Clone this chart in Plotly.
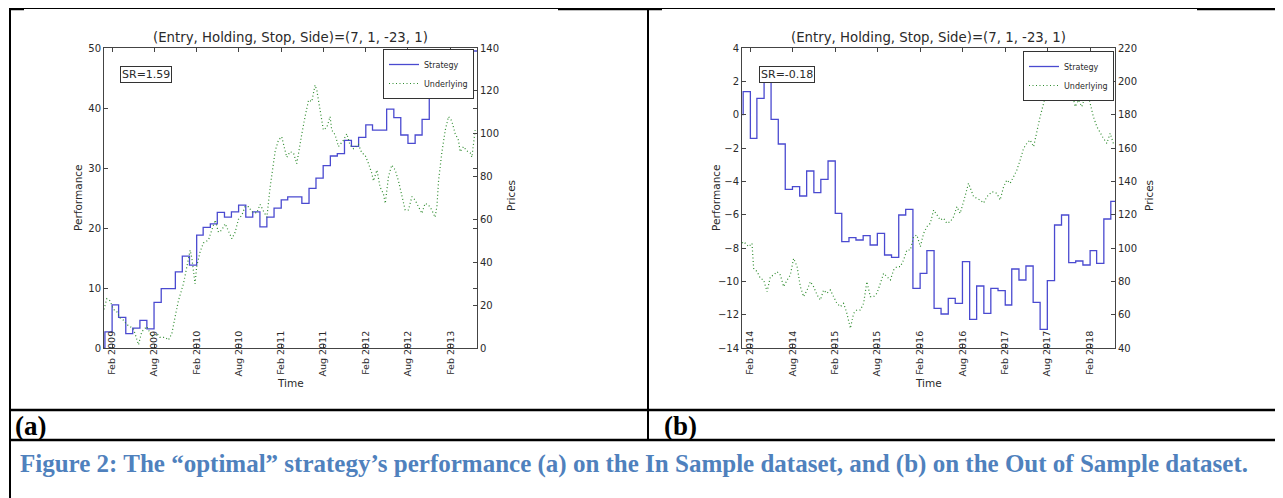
import plotly.graph_objects as go

# page size and the browser's default 8px body margin
PAGE_W, PAGE_H = 1283, 498
OFF = 8
W, H = PAGE_W - OFF, PAGE_H - OFF

# ---------------- (a) In Sample ----------------
a_strategy_dates = [
    "2008-12-28", "2009-01-01", "2009-02-01", "2009-03-01", "2009-04-01", "2009-05-01", "2009-06-01",
    "2009-07-01", "2009-08-01", "2009-09-01", "2009-10-01", "2009-11-01", "2009-12-01",
    "2010-01-01", "2010-02-01", "2010-03-01", "2010-04-01", "2010-05-01", "2010-06-01",
    "2010-07-01", "2010-08-01", "2010-09-01", "2010-10-01", "2010-11-01", "2010-12-01",
    "2011-01-01", "2011-02-01", "2011-03-01", "2011-04-01", "2011-05-01", "2011-06-01",
    "2011-07-01", "2011-08-01", "2011-09-01", "2011-10-01", "2011-11-01", "2011-12-01",
    "2012-01-01", "2012-02-01", "2012-03-01", "2012-04-01", "2012-05-01", "2012-06-01",
    "2012-07-01", "2012-08-01", "2012-09-01", "2012-10-01", "2012-11-01", "2012-12-01",
    "2013-01-01", "2013-02-01", "2013-03-01", "2013-04-01", "2013-05-01", "2013-05-26",
]
a_strategy_perf = [
    0.0, 2.7, 7.2, 5.1, 2.4, 3.3, 4.6, 3.2, 7.6, 9.9, 9.9, 12.7, 15.3,
    13.8, 18.8, 20.1, 20.7, 22.6, 21.8, 22.7, 23.8, 21.8, 22.7, 20.2, 21.8,
    23.3, 24.7, 25.2, 25.2, 24.1, 26.6, 28.3, 30.4, 32.0, 32.4, 34.6, 33.6,
    35.1, 37.2, 36.3, 36.3, 39.8, 38.4, 35.5, 34.1, 35.5, 38.1, 43.4, 46.0,
    47.0, 48.5, 47.5, 49.0, 49.5, 49.5,
]
a_price_dates = [
    "2008-12-28", "2009-01-09", "2009-01-23", "2009-02-07", "2009-02-21", "2009-03-08", "2009-03-22",
    "2009-04-05", "2009-04-20", "2009-05-04", "2009-05-16", "2009-05-26", "2009-06-09", "2009-07-01",
    "2009-07-22", "2009-08-13", "2009-08-27", "2009-09-18", "2009-10-02", "2009-10-17", "2009-10-31",
    "2009-11-14", "2009-12-06", "2009-12-20", "2010-01-04", "2010-01-11", "2010-01-25", "2010-02-01",
    "2010-02-16", "2010-03-02", "2010-03-24", "2010-04-07", "2010-04-22", "2010-05-06", "2010-05-20",
    "2010-06-04", "2010-06-18", "2010-07-03", "2010-07-17", "2010-07-31", "2010-08-15", "2010-08-29",
    "2010-09-13", "2010-09-27", "2010-10-18", "2010-11-02", "2010-11-16", "2010-12-01", "2010-12-15",
    "2011-01-06", "2011-01-20", "2011-02-03", "2011-02-18", "2011-02-25", "2011-03-11", "2011-03-26",
    "2011-04-09", "2011-04-16", "2011-05-01", "2011-05-15", "2011-05-30", "2011-06-13", "2011-06-27",
    "2011-07-05", "2011-07-12", "2011-07-26", "2011-08-02", "2011-08-17", "2011-08-31", "2011-09-07",
    "2011-09-22", "2011-10-06", "2011-10-28", "2011-11-11", "2011-11-25", "2011-12-10", "2011-12-31",
    "2012-01-15", "2012-01-29", "2012-02-13", "2012-02-27", "2012-03-05", "2012-03-20", "2012-04-03",
    "2012-04-17", "2012-04-25", "2012-05-09", "2012-05-23", "2012-06-07", "2012-06-21", "2012-07-06",
    "2012-07-20", "2012-08-03", "2012-08-18", "2012-09-01", "2012-09-15", "2012-09-30", "2012-10-14",
    "2012-10-29", "2012-11-12", "2012-11-26", "2012-12-04", "2012-12-11", "2012-12-25", "2013-01-09",
    "2013-01-23", "2013-02-06", "2013-02-21", "2013-03-07", "2013-03-14", "2013-03-29", "2013-04-12",
    "2013-04-27", "2013-05-04", "2013-05-18",
]
a_price_vals = [
    18, 23, 22, 18, 17, 14, 13,
    11, 10, 9, 5, 1.5, 7.6, 10,
    5.3, 6.8, 5, 5, 3.7, 6.8, 14.6,
    22, 30, 38, 45.7, 42, 30, 38,
    45, 49, 50.4, 55, 59.7, 54, 55,
    58, 55, 51, 54, 60, 62, 66,
    66, 63.6, 63, 67, 64, 61, 75,
    92, 97, 98.6, 92, 89, 91.6, 91,
    86, 91, 100, 108, 115.7, 115, 122.7,
    120, 115.7, 106, 101.7, 103, 108, 101.7,
    99.4, 94, 97, 100, 94.7, 93, 95,
    91, 90, 86, 81.5, 78, 83, 75,
    72, 67.5, 80, 85.4, 83, 78, 70.6,
    64.4, 64.4, 70.6, 69, 66, 62.8, 67.5,
    66.7, 64.4, 61, 66, 78, 91, 101.7,
    108, 106, 100, 97, 91.6, 94, 92,
    91, 89, 101.7,
]
a_tick_dates = ["2009-02-01", "2009-08-01", "2010-02-01", "2010-08-01", "2011-02-01",
                "2011-08-01", "2012-02-01", "2012-08-01", "2013-02-01"]
a_tick_text = ["Feb 2009", "Aug 2009", "Feb 2010", "Aug 2010", "Feb 2011",
               "Aug 2011", "Feb 2012", "Aug 2012", "Feb 2013"]
a_range = ["2008-12-28", "2013-05-26"]
a_sr = "SR=1.59"

# ---------------- (b) Out of Sample ----------------
b_strategy_dates = [
    "2013-12-28", "2014-01-01", "2014-02-01", "2014-03-01", "2014-04-01", "2014-05-01", "2014-06-01",
    "2014-07-01", "2014-08-01", "2014-09-01", "2014-10-01", "2014-11-01", "2014-12-01",
    "2015-01-01", "2015-02-01", "2015-03-01", "2015-04-01", "2015-05-01", "2015-06-01",
    "2015-07-01", "2015-08-01", "2015-09-01", "2015-10-01", "2015-11-01", "2015-12-01",
    "2016-01-01", "2016-02-01", "2016-03-01", "2016-04-01", "2016-05-01", "2016-06-01",
    "2016-07-01", "2016-08-01", "2016-09-01", "2016-10-01", "2016-11-01", "2016-12-01",
    "2017-01-01", "2017-02-01", "2017-03-01", "2017-04-01", "2017-05-01", "2017-06-01",
    "2017-07-01", "2017-08-01", "2017-09-01", "2017-10-01", "2017-11-01", "2017-12-01",
    "2018-01-01", "2018-02-01", "2018-03-01", "2018-04-01", "2018-05-01", "2018-05-19",
]
b_strategy_perf = [
    0.0, 1.38, -1.42, 0.98, 2.1, -0.28, -1.76, -4.48, -4.32, -4.88, -3.38, -4.68, -3.88,
    -2.78, -5.92, -7.62, -7.38, -7.52, -7.26, -7.82, -7.12, -8.42, -8.56, -6.02, -5.68,
    -10.42, -9.52, -8.16, -11.62, -11.96, -11.02, -11.32, -8.82, -12.28, -10.28, -11.92, -10.42,
    -10.56, -11.42, -9.26, -9.92, -9.08, -11.26, -12.88, -9.96, -6.62, -6.02, -8.88, -8.78,
    -9.02, -8.16, -8.92, -6.26, -5.2, -5.2,
]
b_price_dates = [
    "2013-12-28", "2014-01-03", "2014-01-25", "2014-02-08", "2014-02-15", "2014-03-02", "2014-03-16",
    "2014-03-30", "2014-04-14", "2014-04-28", "2014-05-12", "2014-05-27", "2014-06-10", "2014-06-24",
    "2014-07-09", "2014-07-23", "2014-08-06", "2014-08-21", "2014-09-04", "2014-09-18", "2014-10-03",
    "2014-10-17", "2014-10-31", "2014-11-15", "2014-11-29", "2014-12-13", "2014-12-27", "2015-01-11",
    "2015-01-25", "2015-02-08", "2015-02-23", "2015-03-09", "2015-03-23", "2015-04-07", "2015-04-21",
    "2015-05-05", "2015-05-20", "2015-06-03", "2015-06-17", "2015-07-02", "2015-07-16", "2015-07-30",
    "2015-08-14", "2015-08-28", "2015-09-11", "2015-09-26", "2015-10-10", "2015-10-24", "2015-11-08",
    "2015-11-22", "2015-12-06", "2015-12-21", "2016-01-04", "2016-01-18", "2016-02-02", "2016-02-16",
    "2016-03-01", "2016-03-16", "2016-03-30", "2016-04-13", "2016-04-28", "2016-05-12", "2016-05-26",
    "2016-06-10", "2016-06-24", "2016-07-08", "2016-07-22", "2016-08-06", "2016-08-27", "2016-09-18",
    "2016-10-16", "2016-10-31", "2016-11-14", "2016-12-06", "2016-12-27", "2017-01-10", "2017-01-25",
    "2017-02-08", "2017-02-22", "2017-03-09", "2017-03-23", "2017-04-06", "2017-04-21", "2017-05-05",
    "2017-05-19", "2017-06-03", "2017-06-17", "2017-07-01", "2017-07-16", "2017-07-30", "2017-08-13",
    "2017-08-28", "2017-09-11", "2017-09-18", "2017-10-02", "2017-10-17", "2017-10-31", "2017-11-14",
    "2017-11-29", "2017-12-13", "2017-12-27", "2018-01-11", "2018-01-18", "2018-02-01", "2018-02-15",
    "2018-03-02", "2018-03-16", "2018-03-30", "2018-04-14", "2018-04-28", "2018-05-12", "2018-05-19",
]
b_price_vals = [
    103, 103.8, 100.8, 102.8, 87.8, 85.8, 81.8,
    80.8, 73.8, 82.8, 83.8, 85.8, 83.8, 76.8,
    80.8, 83.8, 93.8, 88.8, 76.8, 70.8, 74.8,
    79.8, 76.8, 71.8, 68.8, 74.8, 72.8, 74.8,
    70.8, 66.8, 64.8, 66.8, 60.8, 51.8, 60.8,
    62.8, 62.8, 66.8, 79.8, 70.8, 70.8, 72.8,
    78.8, 84.8, 82.8, 80.8, 86.8, 88.8, 88.8,
    92.8, 98.8, 98.8, 106.8, 107.8, 100.8, 108.8,
    112.8, 114.8, 122.8, 119.8, 116.8, 117.8, 114.8,
    115.8, 118.8, 124.8, 120.8, 127.8, 138.8, 130.8,
    128.8, 127, 130.8, 133.8, 132.8, 128.8, 136.8,
    140.8, 138.8, 142.8, 146.8, 152.8, 159.8, 162.8,
    164.8, 160.8, 170.8, 178.8, 186.8, 194.8, 204.8,
    206.8, 200.8, 194.8, 201.8, 205.8, 201.8, 192.8,
    184.8, 188.8, 184.8, 190.8, 194.8, 186.8, 178.8,
    172.8, 168.8, 165.8, 162.8, 168.8, 162.8, 161.8,
]
b_tick_dates = ["2014-02-01", "2014-08-01", "2015-02-01", "2015-08-01", "2016-02-01",
                "2016-08-01", "2017-02-01", "2017-08-01", "2018-02-01"]
b_tick_text = ["Feb 2014", "Aug 2014", "Feb 2015", "Aug 2015", "Feb 2016",
               "Aug 2016", "Feb 2017", "Aug 2017", "Feb 2018"]
b_range = ["2013-12-27", "2018-05-19"]
b_sr = "SR=-0.18"

title_text = "(Entry, Holding, Stop, Side)=(7, 1, -23, 1)"
caption_text = ("Figure 2: The \u201coptimal\u201d strategy\u2019s performance (a) on the In Sample dataset, "
                "and (b) on the Out of Sample dataset.")

# ---------------- styling ----------------
FONT = "DejaVu Sans"
BLUE = "#4a4ad0"
GREEN = "#2e8b2e"
AX = "#444444"
TXT = "#2a2a2a"


def px(x):
    """page pixel x -> paper fraction"""
    return (x - OFF) / W


def py(y):
    """page pixel y -> paper fraction"""
    return 1 - (y - OFF) / H


# panel geometry (page pixels)
A_X0, A_X1 = 104, 477
B_X0, B_X1 = 742, 1115
Y_TOP, Y_BOT = 48, 348

fig = go.Figure()

fig.add_trace(go.Scatter(x=a_strategy_dates, y=a_strategy_perf, name="Strategy", mode="lines",
                         line=dict(color=BLUE, width=1.3, shape="hv"), xaxis="x", yaxis="y",
                         legend="legend"))
fig.add_trace(go.Scatter(x=a_price_dates, y=a_price_vals, name="Underlying", mode="lines",
                         line=dict(color=GREEN, width=1.2, dash="1px,2.5px"), xaxis="x", yaxis="y2",
                         legend="legend"))
fig.add_trace(go.Scatter(x=b_strategy_dates, y=b_strategy_perf, name="Strategy", mode="lines",
                         line=dict(color=BLUE, width=1.3, shape="hv"), xaxis="x2", yaxis="y3",
                         legend="legend2"))
fig.add_trace(go.Scatter(x=b_price_dates, y=b_price_vals, name="Underlying", mode="lines",
                         line=dict(color=GREEN, width=1.2, dash="1px,2.5px"), xaxis="x2", yaxis="y4",
                         legend="legend2"))

tickfont = dict(family=FONT, size=10, color=TXT)
xtickfont = dict(family=FONT, size=9.5, color=TXT)


def xaxis_cfg(domain, rng, tv, tt, anchor):
    return dict(domain=domain, range=rng, type="date", anchor=anchor, automargin=False,
                tickmode="array", tickvals=tv, ticktext=tt, tickangle=-90,
                ticks="inside", ticklen=4, tickcolor=AX, showline=True, linecolor=AX,
                linewidth=1, mirror="ticks", showgrid=False, zeroline=False,
                tickfont=xtickfont, ticklabelstandoff=-22)


def yaxis_cfg(rng, dtick, anchor):
    return dict(domain=[py(Y_BOT), py(Y_TOP)], range=rng, dtick=dtick, tick0=rng[0],
                anchor=anchor, automargin=False, ticks="inside", ticklen=4, tickcolor=AX,
                showline=True, linecolor=AX, linewidth=1, mirror="ticks", showgrid=False,
                zeroline=False, tickfont=tickfont)


def yaxis2_cfg(rng, dtick, over, anchor):
    return dict(range=rng, dtick=dtick, tick0=rng[0], overlaying=over, anchor=anchor,
                automargin=False, side="right", ticks="inside", ticklen=4, tickcolor=AX,
                showline=True, linecolor=AX, linewidth=1, showgrid=False, zeroline=False,
                tickfont=tickfont)


legend_common = dict(bgcolor="white", bordercolor="#333333", borderwidth=1,
                     font=dict(family=FONT, size=8, color=TXT), xanchor="right", yanchor="top",
                     tracegroupgap=0, itemwidth=30)

layout = dict(
    template="none",
    width=W, height=H, margin=dict(l=0, r=0, t=0, b=0, pad=0),
    paper_bgcolor="white", plot_bgcolor="white",
    xaxis=xaxis_cfg([px(A_X0), px(A_X1)], a_range, a_tick_dates, a_tick_text, "y"),
    yaxis=yaxis_cfg([0, 50], 10, "x"),
    yaxis2=yaxis2_cfg([0, 140], 20, "y", "x"),
    xaxis2=xaxis_cfg([px(B_X0), px(B_X1)], b_range, b_tick_dates, b_tick_text, "y3"),
    yaxis3=yaxis_cfg([-14, 4], 2, "x2"),
    yaxis4=yaxis2_cfg([40, 220], 20, "y3", "x2"),
    legend=dict(x=px(A_X1 - 3), y=py(Y_TOP + 1), **legend_common),
    legend2=dict(x=px(B_X1 - 1), y=py(Y_TOP + 3), **legend_common),
    showlegend=True,
)
fig.update_layout(**layout)

ann = []


def text(x, y, s, size, angle=0, **kw):
    d = dict(x=px(x), y=py(y), xref="paper", yref="paper", text=s, showarrow=False,
             textangle=angle, font=dict(family=FONT, size=size, color=TXT),
             xanchor="center", yanchor="middle")
    d.update(kw)
    ann.append(d)


for x0, x1, sr, srx in [(A_X0, A_X1, a_sr, 146), (B_X0, B_X1, b_sr, 787)]:
    cx = (x0 + x1) / 2
    text(cx, 38, title_text, 13.3)
    text(x0 - 26, 198, "Performance", 10.5, -90)
    text(x1 + 34, 196, "Prices", 10.5, -90)
    text(cx, 383, "Time", 10.5)
    text(srx, 74, sr, 11, bordercolor="#333333", borderwidth=1, borderpad=1, bgcolor="white")

serif = "Liberation Serif"
for lx, lab in [(13, "(a)"), (662, "(b)")]:
    ann.append(dict(x=px(lx), y=py(426), xref="paper", yref="paper", text="<b>" + lab + "</b>",
                    showarrow=False, xanchor="left", yanchor="middle",
                    font=dict(family=serif, size=27, color="black")))
ann.append(dict(x=px(634), y=py(464), xref="paper", yref="paper", text="<b>" + caption_text + "</b>",
                showarrow=False, xanchor="center", yanchor="middle",
                font=dict(family=serif, size=25, color="#4f81bd")))
fig.update_layout(annotations=ann)

shapes = []


def line(x0, y0, x1, y1, w):
    shapes.append(dict(type="line", xref="paper", yref="paper", x0=px(x0), y0=py(y0),
                       x1=px(x1), y1=py(y1), line=dict(color="black", width=w)))


line(10, 8.5, PAGE_W, 8.5, 1)
line(9, 9, 24, 9, 2.5)
line(558, 9, 662, 9, 2.5)
line(1197, 9, PAGE_W, 9, 2.5)
line(10, 8, 10, PAGE_H, 2)
line(648, 8, 648, 440, 2)
line(10, 410, PAGE_W, 410, 2.5)
line(10, 440, PAGE_W, 440, 2.5)
fig.update_layout(shapes=shapes)

fig.write_html("out.html")
